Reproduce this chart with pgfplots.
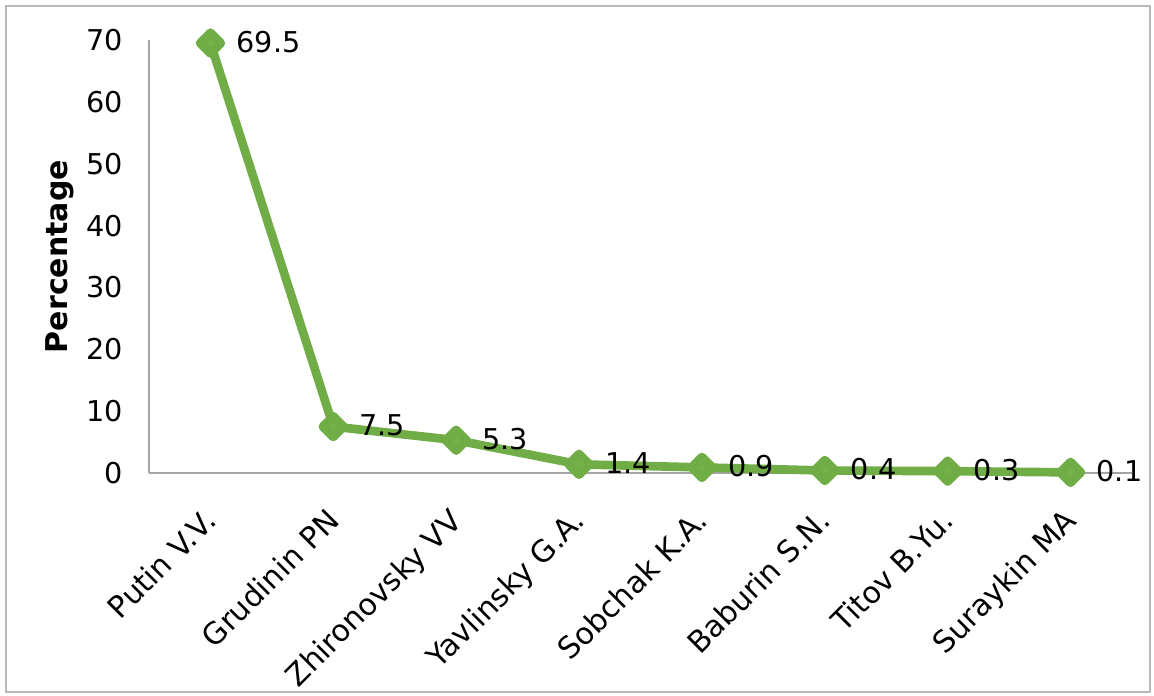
\documentclass[border=0pt]{standalone}
\usepackage{fontspec}
\setmainfont{DejaVu Sans}
\usepackage{pgfplots}
\pgfplotsset{compat=1.18}
\definecolor{linegreen}{RGB}{112,173,71}
\definecolor{markgreen}{RGB}{118,178,76}
\definecolor{framegray}{RGB}{185,185,185}
\definecolor{axisgray}{RGB}{165,165,165}

\begin{document}
\begin{tikzpicture}
\useasboundingbox (-111.75pt,-167.25pt) rectangle (753.75pt,354.75pt);
\draw[framegray, line width=1.2pt] (-107.25pt,-164.25pt) rectangle (750.75pt,350.25pt);
\begin{axis}[
    at={(0pt,0pt)}, anchor=south west,
    scale only axis,
    width=737.25pt, height=324.75pt,
    xmin=-0.5, xmax=7.5,
    ymin=0, ymax=70,
    axis lines*=left,
    axis line style={axisgray, line width=1pt},
    major tick length=0pt,
    ytick={0,10,...,70},
    xtick={0,...,7},
    xticklabels={Putin V.V., Grudinin PN, Zhironovsky VV, Yavlinsky G.A.,
                 Sobchak K.A., Baburin S.N., Titov B.Yu., Suraykin MA},
    ticklabel style={font=\fontsize{21.5}{26}\selectfont},
    /pgf/number format/assume math mode=true,
    yticklabel style={xshift=-16pt},
    xticklabel style={rotate=45, anchor=north east, xshift=-19pt, yshift=-10pt,
        font=\fontsize{22.5}{27}\selectfont},
    every axis y label/.style={at={(rel axis cs:-0.0905,0.5)}, rotate=90,
        anchor=center, font=\fontsize{22.5}{27}\selectfont\bfseries},
    ylabel={Percentage},
    clip=false,
    nodes near coords={\pgfmathprintnumber[fixed,zerofill,precision=1]{\pgfplotspointmeta}},
    nodes near coords style={anchor=west, xshift=13pt, yshift=1pt, text=black,
        font=\fontsize{21.5}{26}\selectfont},
]
\addplot[color=linegreen, line width=6.5pt, line join=round,
    mark=square*, mark size=5.5pt,
    mark options={rotate=45, fill=markgreen, draw=none}]
    coordinates {(0,69.5) (1,7.5) (2,5.3) (3,1.4) (4,0.9) (5,0.4) (6,0.3) (7,0.1)};
\end{axis}
\end{tikzpicture}
\end{document}
